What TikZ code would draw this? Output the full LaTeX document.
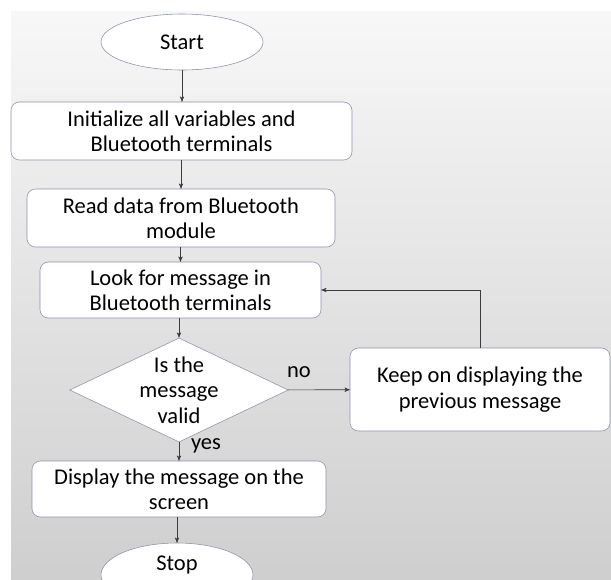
\documentclass[tikz,border=0pt]{standalone}
\usepackage{fontspec}
\setmainfont{Carlito}
\usetikzlibrary{arrows,shapes.geometric}
\definecolor{boxline}{RGB}{140,146,165}
\definecolor{flowline}{RGB}{60,60,60}

\begin{document}
\begin{tikzpicture}[x=0.025cm,y=-0.025cm,->,>=stealth',thin,
                    every node/.style={font=\fontsize{16}{18}\selectfont},
                    every edge/.style={draw=flowline}]
  \tikzstyle{proc}=[rectangle,rounded corners=6pt,draw=boxline,fill=white,
                    align=center,inner sep=0pt]
  \tikzstyle{term}=[ellipse,draw=boxline,fill=white,inner sep=0pt]
  \tikzstyle{test}=[diamond,draw=boxline,fill=white,align=center,
                    aspect=2.1,inner sep=0pt,
                    font=\fontsize{16}{18}\selectfont]

  \useasboundingbox (0,0) rectangle (611,579);
  \clip (0,0) rectangle (611,579);
  \fill[top color=gray!6,bottom color=gray!38,draw=none] (11,11) rectangle (611,579);

  \node[term,minimum width=162*0.025cm,minimum height=56*0.025cm] (start) at (182,42) {Start};
  \node[proc,minimum width=341*0.025cm,minimum height=58*0.025cm] (init) at (181.5,131)
       {Initialize all variables and\\Bluetooth terminals};
  \node[proc,minimum width=308*0.025cm,minimum height=58*0.025cm] (read) at (181,218)
       {Read data from Bluetooth\\module};
  \node[proc,minimum width=281*0.025cm,minimum height=56*0.025cm] (look) at (180.5,290)
       {Look for message in\\Bluetooth terminals};
  \node[test,minimum width=204*0.025cm,minimum height=96*0.025cm] (valid) at (179,390)
       {Is the\\message\\valid};
  \node[proc,minimum width=260*0.025cm,minimum height=83*0.025cm] (keep) at (480,389.5)
       {Keep on displaying the\\previous message};
  \node[proc,minimum width=294*0.025cm,minimum height=56*0.025cm] (show) at (179,489)
       {Display the message on the\\screen};
  \node[term,minimum width=152*0.025cm,minimum height=64*0.025cm] (stop) at (177,575) {};
  \node (stoptxt) at (177,565) {Stop};

  \node (no) at (299,372) {no};
  \node (yes) at (206,446) {yes};

  \path (start.south) edge (start.south |- init.north)
        (init.south -| read.north) edge (read.north)
        (read.south -| look.north) edge (look.north)
        (look.south -| valid.north) edge (valid.north)
        (valid.south) edge (valid.south |- show.north)
        (valid) edge (keep)
        (show.south -| stop.north) edge (stop.north);
  \draw[flowline] (keep.north) |- (look.east);

\end{tikzpicture}
\end{document}
